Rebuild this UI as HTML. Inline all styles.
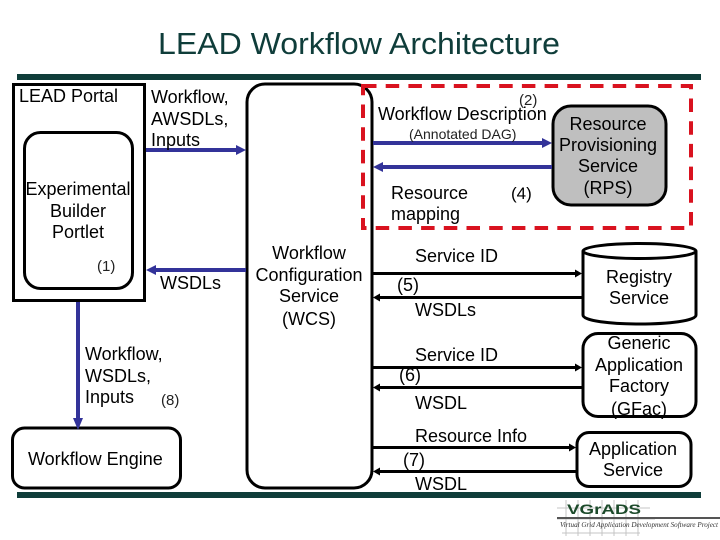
<!DOCTYPE html>
<html><head><meta charset="utf-8">
<style>
html,body{margin:0;padding:0;background:#fff}
svg{display:block}
text{font-family:"Liberation Sans",sans-serif;fill:#000;font-size:18px}
.m{text-anchor:middle}
.n{font-size:15px;fill:#222}
</style></head>
<body>
<svg width="720" height="540" viewBox="0 0 720 540" xmlns="http://www.w3.org/2000/svg">
<text x="158" y="54" style="font-size:31px;fill:#0f3d3a" textLength="402" lengthAdjust="spacingAndGlyphs">LEAD Workflow Architecture</text>
<rect x="17" y="74" width="684" height="6" fill="#0f3d3a"/>
<rect x="17" y="492" width="684" height="6" fill="#0f3d3a"/>

<!-- Boxes -->
<rect x="13.5" y="84.5" width="131" height="216" fill="none" stroke="#000" stroke-width="3"/>
<rect x="24.5" y="132.5" width="108" height="156" rx="16" fill="none" stroke="#000" stroke-width="3"/>
<rect x="247" y="84" width="125" height="404" rx="18" fill="none" stroke="#000" stroke-width="3"/>
<rect x="12.5" y="428" width="168" height="60" rx="12" fill="none" stroke="#000" stroke-width="3"/>
<rect x="553" y="106" width="113" height="99" rx="18" fill="#bfbfbf" stroke="#000" stroke-width="3"/>
<rect x="583" y="333.5" width="113" height="83" rx="15" fill="#fff" stroke="#000" stroke-width="3"/>
<rect x="577" y="432.5" width="114" height="54" rx="12" fill="#fff" stroke="#000" stroke-width="3"/>
<!-- Cylinder -->
<path d="M583 251 V315 C583 327 696 327 696 315 V251" fill="#fff" stroke="#000" stroke-width="3"/>
<ellipse cx="639.5" cy="251" rx="56.5" ry="7.5" fill="#fff" stroke="#000" stroke-width="3"/>

<!-- Red dashed -->
<rect x="363" y="86" width="328" height="142" fill="none" stroke="#d9121f" stroke-width="4" stroke-dasharray="13.5 9.2"/>

<!-- Blue arrows -->
<g fill="#333399">
<rect x="146" y="148" width="92" height="4"/><path d="M246 150 L236 145 V155Z"/>
<rect x="154" y="268" width="92" height="4"/><path d="M146 270 L156 265 V275Z"/>
<rect x="76" y="302" width="4" height="118"/><path d="M78 430 L73 418 H83Z"/>
<rect x="373" y="141" width="171" height="4"/><path d="M552 143 L542 138 V148Z"/>
<rect x="381" y="165" width="171" height="4"/><path d="M373 167 L383 162 V172Z"/>
</g>
<!-- Black arrows -->
<g fill="#000">
<rect x="373" y="272" width="204" height="3"/><path d="M582 273.5 L575 269.5 V277.5Z"/>
<rect x="378" y="296" width="204" height="3"/><path d="M373 297.5 L380 293.5 V301.5Z"/>
<rect x="373" y="366" width="204" height="3"/><path d="M582 367.5 L575 363.5 V371.5Z"/>
<rect x="378" y="386" width="204" height="3"/><path d="M373 387.5 L380 383.5 V391.5Z"/>
<rect x="373" y="446" width="198" height="3"/><path d="M576 447.5 L569 443.5 V451.5Z"/>
<rect x="378" y="470" width="198" height="3"/><path d="M373 471.5 L380 467.5 V475.5Z"/>
</g>

<!-- Labels -->
<text x="19" y="102">LEAD Portal</text>
<text x="151" y="103">Workflow,</text>
<text x="151" y="125">AWSDLs,</text>
<text x="151" y="146">Inputs</text>
<text class="m" x="78" y="195">Experimental</text>
<text class="m" x="78" y="217">Builder</text>
<text class="m" x="78" y="238">Portlet</text>
<text x="97" y="271" class="n">(1)</text>
<text x="160" y="289">WSDLs</text>
<text class="m" x="309" y="259">Workflow</text>
<text class="m" x="309" y="281">Configuration</text>
<text class="m" x="309" y="302">Service</text>
<text class="m" x="309" y="325">(WCS)</text>
<text x="85" y="360">Workflow,</text>
<text x="85" y="382">WSDLs,</text>
<text x="85" y="403">Inputs</text>
<text x="161" y="405" class="n">(8)</text>
<text x="28" y="465">Workflow Engine</text>

<text x="519" y="105" class="n">(2)</text>
<text x="378" y="120">Workflow Description</text>
<text x="409" y="139" style="font-size:14px;fill:#222">(Annotated DAG)</text>
<text x="391" y="199">Resource</text>
<text x="391" y="220">mapping</text>
<text x="511" y="199" style="font-size:17px">(4)</text>
<text class="m" x="608" y="130">Resource</text>
<text class="m" x="608" y="151">Provisioning</text>
<text class="m" x="608" y="172">Service</text>
<text class="m" x="608" y="194">(RPS)</text>

<text x="415" y="262">Service ID</text>
<text x="397" y="291">(5)</text>
<text x="415" y="316">WSDLs</text>
<text class="m" x="639" y="283">Registry</text>
<text class="m" x="639" y="304">Service</text>

<text x="415" y="361">Service ID</text>
<text x="399" y="381">(6)</text>
<text x="415" y="409">WSDL</text>
<text class="m" x="639" y="349">Generic</text>
<text class="m" x="639" y="371">Application</text>
<text class="m" x="639" y="392">Factory</text>
<text class="m" x="639" y="415">(GFac)</text>

<text x="415" y="442">Resource Info</text>
<text x="403" y="466">(7)</text>
<text x="415" y="490">WSDL</text>
<text class="m" x="633" y="455">Application</text>
<text class="m" x="633" y="476">Service</text>

<!-- Logo -->
<g stroke="#c4c4c4" stroke-width="1">
<path d="M557 508 H650 M557 519 H655 M562 533 H640"/>
<path d="M566 500 V536 M578 500 V536 M590 500 V536 M602 500 V536 M614 500 V536 M626 500 V536 M638 500 V536"/>
</g>
<rect x="557" y="517" width="163" height="2" fill="#555"/>
<text x="567" y="514" style="font-size:14px;font-weight:bold;fill:#1c4a2a" textLength="74" lengthAdjust="spacingAndGlyphs">VGrADS</text>
<text x="560" y="527" style="font-size:7px;font-family:'Liberation Serif',serif;font-style:italic;fill:#333" textLength="158" lengthAdjust="spacingAndGlyphs">Virtual Grid Application Development Software Project</text>
</svg>
</body></html>
